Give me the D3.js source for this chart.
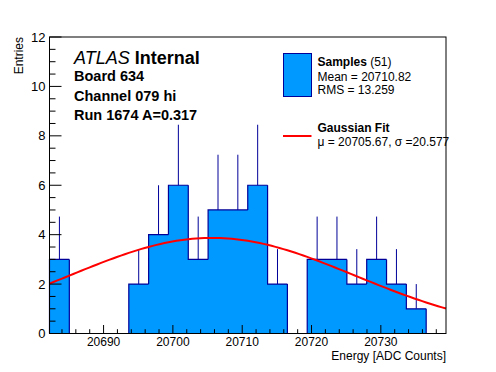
<!DOCTYPE html>
<html>
<head>
<meta charset="utf-8">
<script src="https://cdn.jsdelivr.net/npm/d3@7"></script>
<style>
  body { margin: 0; background: #fff; }
  svg { display: block; font-family: "Liberation Sans", Arial, sans-serif; }
</style>
</head>
<body>
<svg id="chart" width="496" height="372"></svg>
<script>
// histogram: 20 equal bins between histMin and histMax
const histMin = 20682.2;
const histMax = 20739.4;
const counts = [3, 0, 0, 0, 2, 4, 6, 3, 5, 5, 6, 2, 0, 3, 3, 2, 3, 2, 1, 0];
const xTicks = [20690, 20700, 20710, 20720, 20730];
const yTicks = [0, 2, 4, 6, 8, 10, 12];

// gaussian fit parameters
const fitMu = 20705.67;
const fitSigma = 20.577;
const fitAmp = 3.87;

const labelLines = ['Board 634', 'Channel 079 hi', 'Run 1674 A=0.317'];

const width = 496, height = 372;
const margin = { top: 37, right: 50, bottom: 38.5, left: 49.5 };

const svg = d3.select('#chart');

const x = d3.scaleLinear().domain([histMin, histMax]).range([margin.left, width - margin.right]);
const y = d3.scaleLinear().domain([0, 12]).range([height - margin.bottom, margin.top]);

const binW = (histMax - histMin) / counts.length;
const bins = counts.map((c, i) => ({ x0: histMin + i * binW, x1: histMin + (i + 1) * binW, n: c }));

const fillCol = '#0099ff';
const lineCol = '#000099';

// error bars (upper half visible above the fill)
svg.append('g').selectAll('line')
  .data(bins.filter(d => d.n > 0))
  .enter().append('line')
  .attr('x1', d => x((d.x0 + d.x1) / 2))
  .attr('x2', d => x((d.x0 + d.x1) / 2))
  .attr('y1', d => y(d.n))
  .attr('y2', d => y(d.n + Math.sqrt(d.n)))
  .attr('stroke', lineCol)
  .attr('stroke-width', 1);

// filled histogram as a step path
const pts = [];
bins.forEach(d => {
  pts.push([x(d.x0), y(d.n)]);
  pts.push([x(d.x1), y(d.n)]);
});
const area = [[x(histMin), y(0)], ...pts, [x(histMax), y(0)]];
svg.append('path')
  .attr('d', d3.line()(area) + 'Z')
  .attr('fill', fillCol)
  .attr('stroke', 'none');

// outline: step path, dropping to zero where empty
let outline = '';
bins.forEach((d, i) => {
  const prev = i > 0 ? bins[i - 1].n : 0;
  if (d.n === 0 && prev === 0) return;
  outline += `M${x(d.x0)},${y(prev)}V${y(d.n)}`;
  if (d.n > 0) outline += `H${x(d.x1)}`;
});
const last = bins[bins.length - 1];
if (last.n > 0) outline += `V${y(0)}`;
svg.append('path')
  .attr('d', outline)
  .attr('fill', 'none')
  .attr('stroke', lineCol)
  .attr('stroke-width', 1.2);

// gaussian fit curve
const gauss = v => fitAmp * Math.exp(-0.5 * Math.pow((v - fitMu) / fitSigma, 2));
const fitPts = d3.range(0, 101).map(i => {
  const v = histMin + (histMax - histMin) * i / 100;
  return [x(v), y(gauss(v))];
});
svg.append('path')
  .attr('d', d3.line()(fitPts))
  .attr('fill', 'none')
  .attr('stroke', '#ff0000')
  .attr('stroke-width', 2);

// frame
svg.append('rect')
  .attr('x', margin.left).attr('y', margin.top)
  .attr('width', width - margin.left - margin.right)
  .attr('height', height - margin.top - margin.bottom)
  .attr('fill', 'none').attr('stroke', '#000').attr('stroke-width', 1);

// y axis ticks (inward)
const yAxis = svg.append('g');
d3.range(0, 12.01, 0.5).forEach(v => {
  const major = Math.abs(v % 2) < 1e-6;
  yAxis.append('line')
    .attr('x1', margin.left).attr('x2', margin.left + (major ? 12 : 6))
    .attr('y1', y(v)).attr('y2', y(v))
    .attr('stroke', '#000');
});
yAxis.selectAll('text').data(yTicks).enter().append('text')
  .attr('x', margin.left - 4)
  .attr('y', d => y(d) + 4.5)
  .attr('text-anchor', 'end')
  .attr('font-size', 13)
  .text(d => d);

// x axis ticks (inward)
const xAxis = svg.append('g');
const minorX = d3.range(20684, histMax, 2);
minorX.forEach(v => {
  const major = v % 10 === 0;
  xAxis.append('line')
    .attr('x1', x(v)).attr('x2', x(v))
    .attr('y1', y(0)).attr('y2', y(0) - (major ? 8.5 : 4.3))
    .attr('stroke', '#000');
});
xAxis.selectAll('text').data(xTicks).enter().append('text')
  .attr('x', d => x(d))
  .attr('y', 346)
  .attr('text-anchor', 'middle')
  .attr('font-size', 12)
  .text(d => d);

// axis titles
svg.append('text')
  .attr('x', width - margin.right)
  .attr('y', 359.5)
  .attr('text-anchor', 'end')
  .attr('font-size', 12)
  .text('Energy [ADC Counts]');

svg.append('text')
  .attr('transform', `translate(23,${margin.top}) rotate(-90)`)
  .attr('text-anchor', 'end')
  .attr('font-size', 12)
  .text('Entries');

// ATLAS label
const atlas = svg.append('text').attr('x', 74).attr('y', 64).attr('font-size', 18);
atlas.append('tspan').attr('font-style', 'italic').text('ATLAS');
atlas.append('tspan').attr('font-weight', 'bold').text(' Internal');

svg.selectAll('.info').data(labelLines).enter().append('text')
  .attr('class', 'info')
  .attr('x', 74)
  .attr('y', (d, i) => 81 + i * 19.5)
  .attr('font-size', 14.5)
  .attr('font-weight', 'bold')
  .text(d => d);

// legend
const leg = svg.append('g');
leg.append('rect')
  .attr('x', 283.5).attr('y', 53.5).attr('width', 28).attr('height', 43)
  .attr('fill', fillCol).attr('stroke', lineCol).attr('stroke-width', 1);
const s = leg.append('text').attr('x', 317.5).attr('y', 66).attr('font-size', 12);
s.append('tspan').attr('font-weight', 'bold').text('Samples');
s.append('tspan').text(' (51)');
leg.append('text').attr('x', 317.5).attr('y', 81).attr('font-size', 12).text('Mean = 20710.82');
leg.append('text').attr('x', 317.5).attr('y', 94).attr('font-size', 12).text('RMS = 13.259');

leg.append('line')
  .attr('x1', 283).attr('x2', 311.5).attr('y1', 136).attr('y2', 136)
  .attr('stroke', '#ff0000').attr('stroke-width', 2);
leg.append('text').attr('x', 317.5).attr('y', 132).attr('font-size', 12)
  .attr('font-weight', 'bold').text('Gaussian Fit');
leg.append('text').attr('x', 317.5).attr('y', 146).attr('font-size', 12)
  .text('\u03bc = 20705.67, \u03c3 =20.577');
</script>
</body>
</html>
